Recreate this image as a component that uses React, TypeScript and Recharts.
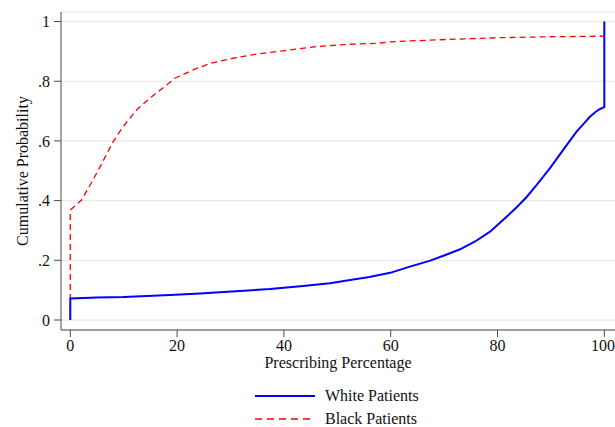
import { LineChart, Line, XAxis, YAxis, CartesianGrid } from 'recharts';

const whiteX = [0, 0, 5, 10, 18.7, 24.3, 28, 37.4, 43.6, 48.6, 53, 56, 59.9, 63.6, 67.4, 70, 73, 75.8, 78.6, 81.7, 83.6, 85.5, 87.3, 89.8, 92.3, 94.8, 96.2, 97.3, 98.4, 99.2, 100, 100];
const whiteY = [0, 0.072, 0.075, 0.077, 0.084, 0.089, 0.093, 0.104, 0.114, 0.123, 0.136, 0.144, 0.158, 0.179, 0.199, 0.216, 0.237, 0.263, 0.296, 0.346, 0.378, 0.413, 0.452, 0.508, 0.57, 0.631, 0.659, 0.681, 0.698, 0.707, 0.713, 1];

const blackX = [0, 0, 2.1, 3.8, 5.6, 8, 9.9, 12.4, 14.9, 16.8, 19.6, 23, 26.2, 30.5, 34.9, 39.9, 46.1, 52.4, 57.4, 59.9, 64.9, 70.5, 80.5, 90, 100];
const blackY = [0, 0.368, 0.402, 0.455, 0.514, 0.597, 0.648, 0.704, 0.743, 0.77, 0.81, 0.838, 0.86, 0.877, 0.891, 0.902, 0.916, 0.924, 0.927, 0.932, 0.936, 0.94, 0.946, 0.949, 0.951];

const xTicks = [0, 20, 40, 60, 80, 100];
const yTicks = [0, 0.2, 0.4, 0.6, 0.8, 1];
const yTickLabels = ['0', '.2', '.4', '.6', '.8', '1'];

const seriesNames = ['White Patients', 'Black Patients'];

const FONT = '"Liberation Serif", "Times New Roman", serif';
const AXIS = '#4a4a4a';

const whiteData = whiteX.map((x, i) => ({ x, y: whiteY[i] }));
const blackData = blackX.map((x, i) => ({ x, y: blackY[i] }));

function fmtY(v: number): string {
    const i = yTicks.findIndex((t) => Math.abs(t - v) < 1e-9);
    return i >= 0 ? yTickLabels[i] : String(v);
}

function LegendBlock() {
    return (
        <div
            style={{
                position: 'absolute',
                left: 255,
                top: 385,
                fontFamily: FONT,
                fontSize: 16,
                color: '#111',
            }}
        >
            {seriesNames.map((name, i) => (
                <div key={name} style={{ display: 'flex', alignItems: 'center', height: 22.5 }}>
                    <svg width={60} height={6} style={{ display: 'block' }}>
                        <line
                            x1={0}
                            x2={60}
                            y1={3}
                            y2={3}
                            stroke={i === 0 ? '#0000ff' : '#ff0000'}
                            strokeWidth={i === 0 ? 2 : 1.3}
                            strokeDasharray={i === 0 ? undefined : '7 5'}
                        />
                    </svg>
                    <span style={{ marginLeft: 10, lineHeight: '16px' }}>{name}</span>
                </div>
            ))}
        </div>
    );
}

export default function App() {
    return (
        <div style={{ position: 'absolute', left: 0, top: 0, width: 615, height: 427, background: '#fff' }}>
            <LineChart
                width={615}
                height={427}
                margin={{ top: 12, right: 0, bottom: 57, left: 0 }}
                style={{ fontFamily: FONT }}
            >
                <CartesianGrid vertical={false} stroke="#e6e6e6" strokeWidth={1} />
                <XAxis
                    type="number"
                    dataKey="x"
                    domain={[-1.74, 102]}
                    ticks={xTicks}
                    allowDataOverflow
                    height={40}
                    tickSize={7}
                    tickMargin={3}
                    stroke={AXIS}
                    tick={{ fill: '#111', fontSize: 16, fontFamily: FONT }}
                    label={{
                        value: 'Prescribing Percentage',
                        position: 'insideBottom',
                        offset: 2,
                        fill: '#111',
                        fontSize: 16,
                        fontFamily: FONT,
                    }}
                />
                <YAxis
                    type="number"
                    dataKey="y"
                    domain={[-0.0335, 1.032]}
                    ticks={yTicks}
                    allowDataOverflow
                    width={61}
                    tickSize={7}
                    tickMargin={4}
                    stroke={AXIS}
                    tickFormatter={fmtY}
                    tick={{ fill: '#111', fontSize: 16, fontFamily: FONT }}
                    label={{
                        value: 'Cumulative Probability',
                        angle: -90,
                        position: 'insideLeft',
                        offset: 22,
                        fill: '#111',
                        fontSize: 16,
                        fontFamily: FONT,
                        style: { textAnchor: 'middle' },
                    }}
                />
                <Line
                    data={blackData}
                    dataKey="y"
                    type="linear"
                    stroke="#ff0000"
                    strokeWidth={1.3}
                    strokeDasharray="6 4"
                    dot={false}
                    activeDot={false}
                    isAnimationActive={false}
                    name={seriesNames[1]}
                />
                <Line
                    data={whiteData}
                    dataKey="y"
                    type="linear"
                    stroke="#0000ff"
                    strokeWidth={2}
                    dot={false}
                    activeDot={false}
                    isAnimationActive={false}
                    name={seriesNames[0]}
                />
            </LineChart>
            <LegendBlock />
        </div>
    );
}
